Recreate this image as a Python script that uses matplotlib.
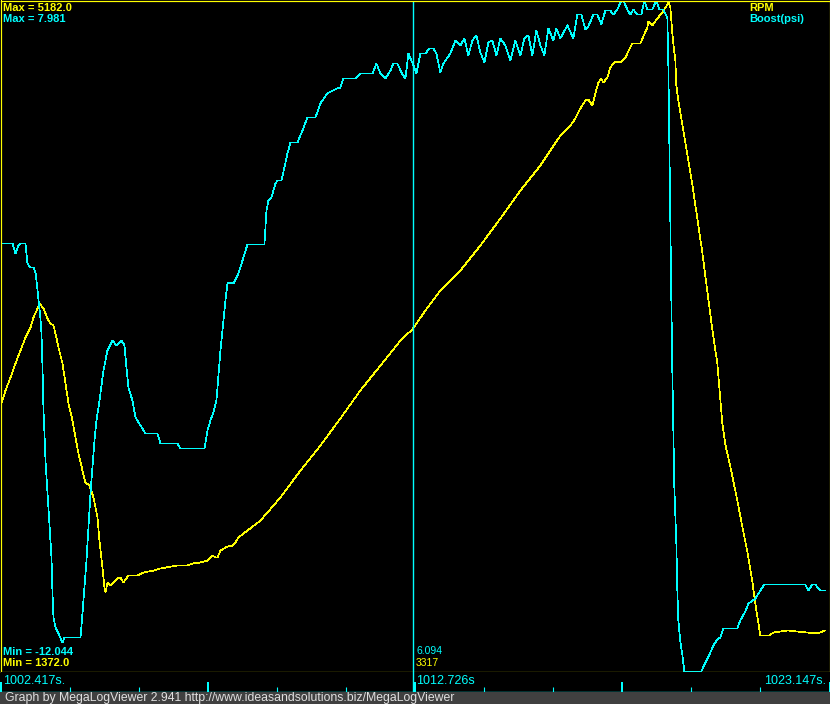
import numpy as np
import matplotlib
matplotlib.use('Agg')
import matplotlib.pyplot as plt
from matplotlib.patches import Rectangle

# log window and scale limits
t_start, t_end = 1002.417, 1023.147
cursor_t = 1012.726
cursor_boost = 6.094
cursor_rpm = 3317
rpm_min, rpm_max = 1372.0, 5182.0
boost_min, boost_max = -12.044, 7.981

# Boost (psi)
boost_time = [1002.417, 1002.717, 1002.792, 1002.867, 1002.917, 1003.042, 1003.092, 1003.167,
              1003.242, 1003.292, 1003.317, 1003.342, 1003.367, 1003.392, 1003.417, 1003.442,
              1003.467, 1003.492, 1003.517, 1003.542, 1003.592, 1003.642, 1003.692, 1003.717,
              1003.742, 1003.792, 1003.867, 1003.967, 1004.017, 1004.417, 1004.467, 1004.517,
              1004.567, 1004.617, 1004.667, 1004.717, 1004.767, 1004.817, 1004.892, 1004.992,
              1005.092, 1005.217, 1005.317, 1005.442, 1005.517, 1005.567, 1005.617, 1005.717,
              1005.792, 1005.917, 1006.042, 1006.342, 1006.417, 1006.842, 1006.917, 1007.517,
              1007.592, 1007.667, 1007.742, 1007.817, 1007.917, 1008.042, 1008.092, 1008.242,
              1008.367, 1008.492, 1008.592, 1009.017, 1009.067, 1009.117, 1009.192, 1009.292,
              1009.342, 1009.442, 1009.517, 1009.592, 1009.667, 1009.842, 1009.967, 1010.092,
              1010.292, 1010.417, 1010.592, 1010.742, 1010.817, 1010.917, 1010.992, 1011.292,
              1011.417, 1011.717, 1011.817, 1011.917, 1012.042, 1012.167, 1012.242, 1012.342,
              1012.442, 1012.542, 1012.617, 1012.692, 1012.767, 1012.817, 1012.867, 1012.917,
              1013.042, 1013.142, 1013.242, 1013.317, 1013.417, 1013.492, 1013.667, 1013.792,
              1013.917, 1014.017, 1014.117, 1014.217, 1014.317, 1014.417, 1014.517, 1014.617,
              1014.717, 1014.817, 1014.917, 1015.042, 1015.167, 1015.292, 1015.417, 1015.517,
              1015.617, 1015.717, 1015.817, 1015.917, 1016.017, 1016.117, 1016.242, 1016.317,
              1016.417, 1016.592, 1016.742, 1016.842, 1016.942, 1017.042, 1017.117, 1017.242,
              1017.342, 1017.442, 1017.542, 1017.667, 1017.742, 1017.842, 1017.942, 1017.992,
              1018.092, 1018.167, 1018.242, 1018.342, 1018.442, 1018.517, 1018.592, 1018.717,
              1018.817, 1018.892, 1018.992, 1019.092, 1019.117, 1019.142, 1019.167, 1019.192,
              1019.217, 1019.242, 1019.267, 1019.317, 1019.342, 1019.367, 1019.417, 1019.467,
              1019.517, 1019.942, 1020.042, 1020.167, 1020.242, 1020.342, 1020.417, 1020.492,
              1020.842, 1020.917, 1021.042, 1021.117, 1021.292, 1021.417, 1021.517, 1022.542,
              1022.617, 1022.717, 1022.792, 1022.917, 1023.042]
boost_psi = [0.73, 0.73, 0.43, 0.67, 0.73, 0.73, 0.13, 0.01,
             0.01, -0.14, -0.38, -0.67, -0.97, -1.27, -1.51, -1.96,
             -2.97, -4.25, -4.94, -5.75, -6.73, -7.75, -8.64, -9.72,
             -10.43, -10.73, -10.91, -11.18, -11.03, -11.03, -10.31, -9.54,
             -8.73, -7.75, -6.73, -5.96, -5.15, -4.55, -3.96, -3.06,
             -2.46, -2.17, -2.31, -2.17, -2.31, -2.97, -3.57, -3.96,
             -4.46, -4.70, -4.94, -4.94, -5.24, -5.24, -5.39, -5.39,
             -4.85, -4.55, -4.31, -3.96, -2.46, -0.97, -0.46, -0.46,
             -0.17, 0.31, 0.70, 0.70, 1.71, 2.01, 2.10, 2.52,
             2.61, 2.61, 3.00, 3.42, 3.74, 3.74, 4.10, 4.49,
             4.49, 4.91, 5.21, 5.30, 5.35, 5.38, 5.65, 5.65,
             5.80, 5.80, 6.10, 5.80, 5.65, 5.89, 6.10, 6.10,
             5.83, 5.65, 6.40, 6.19, 5.98, 5.80, 6.10, 6.40,
             6.40, 6.55, 6.55, 6.40, 5.83, 6.10, 6.40, 6.79,
             6.64, 6.85, 6.34, 6.79, 6.94, 6.43, 6.13, 6.73,
             6.79, 6.34, 6.85, 6.64, 6.19, 6.79, 6.34, 6.85,
             6.94, 6.34, 7.09, 6.64, 6.34, 7.15, 6.79, 7.15,
             6.85, 7.24, 6.85, 7.56, 7.56, 7.12, 7.21, 7.56,
             7.56, 7.27, 7.68, 7.68, 7.56, 7.71, 7.98, 7.98,
             7.71, 7.56, 7.71, 7.56, 7.56, 7.98, 7.71, 7.71,
             7.98, 7.71, 7.71, 7.47, 6.07, 3.65, 1.36, -0.94,
             -3.12, -4.91, -6.55, -8.22, -9.63, -10.52, -11.15, -11.54,
             -12.044, -12.044, -11.78, -11.48, -11.27, -11.09, -11.03, -10.76,
             -10.76, -10.52, -10.25, -10.02, -9.87, -9.63, -9.45, -9.45,
             -9.63, -9.45, -9.45, -9.63, -9.63]

# RPM
rpm_time = [1002.417, 1002.467, 1002.542, 1002.667, 1002.792, 1002.917, 1003.042, 1003.167,
            1003.242, 1003.342, 1003.392, 1003.492, 1003.592, 1003.667, 1003.742, 1003.792,
            1003.867, 1003.967, 1004.042, 1004.117, 1004.217, 1004.292, 1004.367, 1004.467,
            1004.542, 1004.642, 1004.742, 1004.842, 1004.892, 1004.967, 1005.017, 1005.042,
            1005.092, 1005.167, 1005.242, 1005.342, 1005.417, 1005.492, 1005.617, 1005.842,
            1005.992, 1006.242, 1006.417, 1006.842, 1007.092, 1007.217, 1007.417, 1007.592,
            1007.717, 1007.792, 1007.842, 1007.917, 1008.092, 1008.217, 1008.292, 1008.367,
            1008.917, 1009.417, 1009.917, 1010.417, 1010.917, 1011.417, 1011.917, 1012.417,
            1012.726, 1013.042, 1013.417, 1013.917, 1014.417, 1014.917, 1015.417, 1015.917,
            1016.167, 1016.417, 1016.667, 1016.792, 1016.917, 1017.042, 1017.117, 1017.217,
            1017.292, 1017.367, 1017.442, 1017.492, 1017.592, 1017.667, 1017.792, 1017.917,
            1018.042, 1018.217, 1018.417, 1018.592, 1018.617, 1018.717, 1018.842, 1018.967,
            1019.092, 1019.117, 1019.167, 1019.217, 1019.242, 1019.292, 1019.317, 1019.367,
            1019.467, 1019.592, 1019.717, 1019.842, 1019.967, 1020.092, 1020.217, 1020.342,
            1020.467, 1020.542, 1020.667, 1020.842, 1020.967, 1021.092, 1021.217, 1021.292,
            1021.417, 1021.642, 1021.742, 1022.092, 1022.592, 1022.842, 1023.042]
rpm_values = [2882, 2911, 2968, 3041, 3121, 3195, 3268, 3325,
              3382, 3433, 3462, 3433, 3376, 3348, 3337, 3291,
              3212, 3121, 3007, 2894, 2797, 2701, 2610, 2513,
              2445, 2428, 2360, 2246, 2116, 1963, 1849, 1821,
              1877, 1860, 1877, 1900, 1906, 1877, 1917, 1917,
              1934, 1945, 1957, 1974, 1974, 1985, 1991, 2002,
              2031, 2019, 2019, 2059, 2082, 2087, 2104, 2133,
              2229, 2360, 2513, 2655, 2809, 2968, 3109, 3251,
              3317, 3422, 3535, 3649, 3791, 3944, 4103, 4245,
              4330, 4415, 4472, 4512, 4569, 4614, 4620, 4586,
              4654, 4716, 4739, 4716, 4745, 4802, 4836, 4830,
              4858, 4938, 4938, 5029, 5063, 5040, 5080, 5114,
              5159, 5182, 5142, 4995, 4938, 4841, 4699, 4614,
              4478, 4308, 4137, 3944, 3751, 3530, 3314, 3121,
              2780, 2661, 2536, 2343, 2195, 2053, 1883, 1758,
              1576, 1576, 1593, 1605, 1593, 1588, 1605]

YEL = '#FFFF00'
CYAN = '#00FFFF'
W, H = 830, 704


def fx(px):
    return px / W


def fy(py):
    return 1 - py / H


sans = ['Liberation Sans', 'DejaVu Sans']
bold = dict(family=sans, weight='bold', size=8.0)

fig = plt.figure(figsize=(8.3, 7.04), dpi=100, facecolor='black')

# main plot area with yellow frame
ax = fig.add_axes([fx(0.5), fy(671.5), 829 / W, 671 / H])
ax.set_facecolor('black')
ax.plot(rpm_time, rpm_values, color=YEL, lw=0.5, antialiased=False)
ax.set_xlim(t_start, t_end)
ax.set_ylim(rpm_min, rpm_max)
ax.set_xticks([])
ax.set_yticks([])

ax2 = ax.twinx()
ax2.plot(boost_time, boost_psi, color=CYAN, lw=0.5, antialiased=False)
ax2.set_ylim(boost_min, boost_max)
ax2.set_xlim(t_start, t_end)
ax2.set_yticks([])
ax2.axvline(cursor_t, color=CYAN, lw=1.0, zorder=2.2)
for a in (ax, ax2):
    for s in a.spines.values():
        s.set_color(YEL)
        s.set_linewidth(0.8)

# time strip under the plot
strip = fig.add_axes([fx(0.5), fy(691.5), 829 / W, 20 / H])
strip.set_facecolor('black')
strip.set_xlim(t_start, t_end)
strip.set_ylim(0, 1)
for k in ['top', 'left', 'right']:
    strip.spines[k].set_visible(False)
strip.spines['bottom'].set_color(CYAN)
strip.spines['bottom'].set_linewidth(1.0)
ticks = np.linspace(t_start, t_end, 13)
strip.set_xticks(ticks[::3])
strip.set_xticks(ticks, minor=True)
strip.set_yticks([])
strip.tick_params(axis='x', which='major', direction='in', length=7.2, width=1.44,
                  color=CYAN, labelbottom=False)
strip.tick_params(axis='x', which='minor', direction='in', length=3.6, width=0.8,
                  color=CYAN, labelbottom=False)
strip.axvline(cursor_t, color=CYAN, lw=1.0)

# footer bar
fig.patches.append(Rectangle((0, 0), 1, 12 / H, transform=fig.transFigure,
                             facecolor='#404040', edgecolor='none', zorder=0))
fig.text(fx(5), fy(701), 'Graph by MegaLogViewer 2.941 http://www.ideasandsolutions.biz/MegaLogViewer',
         color='#E0E0E0', family=sans, size=8.8, va='baseline')

# max / min labels
fig.text(fx(3), fy(11), 'Max = %.1f' % rpm_max, color=YEL, va='baseline', **bold)
fig.text(fx(3), fy(22), 'Max = %.3f' % boost_max, color=CYAN, va='baseline', **bold)
fig.text(fx(3), fy(655), 'Min = %.3f' % boost_min, color=CYAN, va='baseline', **bold)
fig.text(fx(3), fy(666.5), 'Min = %.1f' % rpm_min, color=YEL, va='baseline', **bold)

# series names
fig.text(fx(749), fy(11), 'RPM', color=YEL, va='baseline', **bold)
fig.text(fx(749), fy(22), 'Boost(psi)', color=CYAN, va='baseline', **bold)

# cursor readout
fig.text(fx(416), fy(654), '%.3f' % cursor_boost, color=CYAN, va='baseline', family=sans, size=7.5)
fig.text(fx(416), fy(666), '%d' % cursor_rpm, color=YEL, va='baseline', family=sans, size=7.5)

# time labels
fig.text(fx(3), fy(684), '%.3fs.' % t_start, color=CYAN, va='baseline', family=sans, size=9)
fig.text(fx(416), fy(684), '%.3fs' % cursor_t, color=CYAN, va='baseline', family=sans, size=9)
fig.text(fx(826), fy(684), '%.3fs.' % t_end, color=CYAN, va='baseline', ha='right',
         family=sans, size=9)

fig.savefig('out.png', dpi=100, facecolor='black')
plt.close(fig)
